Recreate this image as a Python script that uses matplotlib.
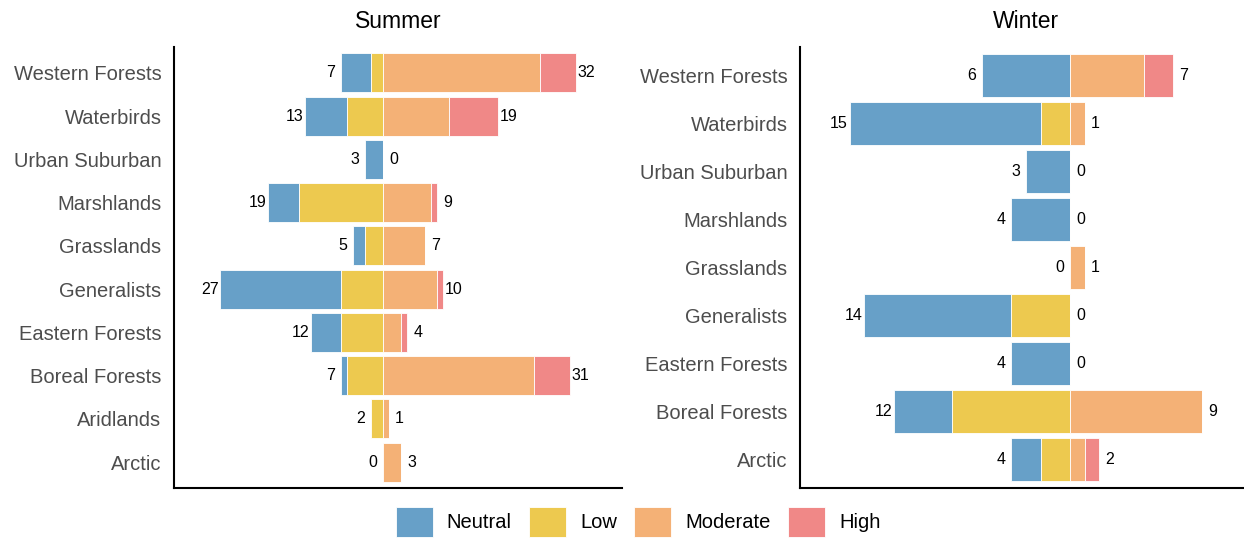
import numpy as np
import matplotlib.pyplot as plt
from matplotlib.patches import Patch

plt.rcParams['font.family'] = ['Liberation Sans', 'DejaVu Sans']

# ---- Data ----
summer_cats = ["Western Forests", "Waterbirds", "Urban Suburban", "Marshlands", "Grasslands",
               "Generalists", "Eastern Forests", "Boreal Forests", "Aridlands", "Arctic"]
summer_neutral = [5, 7, 3, 5, 2, 20, 5, 1, 0, 0]
summer_low = [2, 6, 0, 14, 3, 7, 7, 6, 2, 0]
summer_moderate = [26, 11, 0, 8, 7, 9, 3, 25, 1, 3]
summer_high = [6, 8, 0, 1, 0, 1, 1, 6, 0, 0]

winter_cats = ["Western Forests", "Waterbirds", "Urban Suburban", "Marshlands", "Grasslands",
               "Generalists", "Eastern Forests", "Boreal Forests", "Arctic"]
winter_neutral = [6, 13, 3, 4, 0, 10, 4, 4, 2]
winter_low = [0, 2, 0, 0, 0, 4, 0, 8, 2]
winter_moderate = [5, 1, 0, 0, 1, 0, 0, 9, 1]
winter_high = [2, 0, 0, 0, 0, 0, 0, 0, 1]

levels = ["Neutral", "Low", "Moderate", "High"]
colors = {"Neutral": "#67a0c8", "Low": "#edc94f", "Moderate": "#f4b176", "High": "#f08887"}

W, H = 1244, 538
fig = plt.figure(figsize=(W / 100, H / 100), dpi=100)


def panel(rect, cats, neu, low, mod, high, xlim, title):
    ax = fig.add_axes(rect)
    neu, low, mod, high = map(np.array, (neu, low, mod, high))
    y = np.arange(len(cats))
    kw = dict(height=0.9, edgecolor="white", linewidth=0.6)
    ax.barh(y, neu, left=-(neu + low), color=colors["Neutral"], **kw)
    ax.barh(y, low, left=-low, color=colors["Low"], **kw)
    ax.barh(y, mod, left=0, color=colors["Moderate"], **kw)
    ax.barh(y, high, left=mod, color=colors["High"], **kw)

    left_tot = neu + low
    right_tot = mod + high
    for yi, lt, rt in zip(y, left_tot, right_tot):
        ax.annotate(str(lt), (-lt, yi), xytext=(-7.5, 0), textcoords="offset points",
                    ha="center", va="center", fontsize=11.5, color="black")
        ax.annotate(str(rt), (rt, yi), xytext=(7.5, 0), textcoords="offset points",
                    ha="center", va="center", fontsize=11.5, color="black")

    ax.set_xlim(*xlim)
    ax.set_ylim(len(cats) - 0.4, -0.6)
    ax.set_yticks(y)
    ax.set_yticklabels(cats, fontsize=14.5, color="#4d4d4d")
    ax.tick_params(axis="y", length=0, pad=9)
    ax.set_xticks([])
    for s in ["top", "right"]:
        ax.spines[s].set_visible(False)
    for s in ["left", "bottom"]:
        ax.spines[s].set_linewidth(1.5)
        ax.spines[s].set_color("black")
    cx = rect[0] + rect[2] / 2
    fig.text(cx, 1 - 22 / H, title, ha="center", va="center", fontsize=16.5, color="black")
    return ax


bottom = 1 - 488 / H
height = (488 - 47) / H

panel([174 / W, bottom, 448 / W, height], summer_cats, summer_neutral, summer_low,
      summer_moderate, summer_high, (-34.66, 39.6), "Summer")
panel([800 / W, bottom, 452 / W, height], winter_cats, winter_neutral, winter_low,
      winter_moderate, winter_high, (-18.37, 12.38), "Winter")

handles = [Patch(facecolor=colors[l], edgecolor="white", linewidth=0.6) for l in levels]
fig.legend(handles, levels, loc="center", bbox_to_anchor=(638 / W, 1 - 522 / H), ncol=4,
           frameon=False, fontsize=14.5, handlelength=1.84, handleheight=1.84,
           handletextpad=0.7, columnspacing=0.85, borderpad=0, borderaxespad=0)

fig.savefig("out.png", dpi=100)
